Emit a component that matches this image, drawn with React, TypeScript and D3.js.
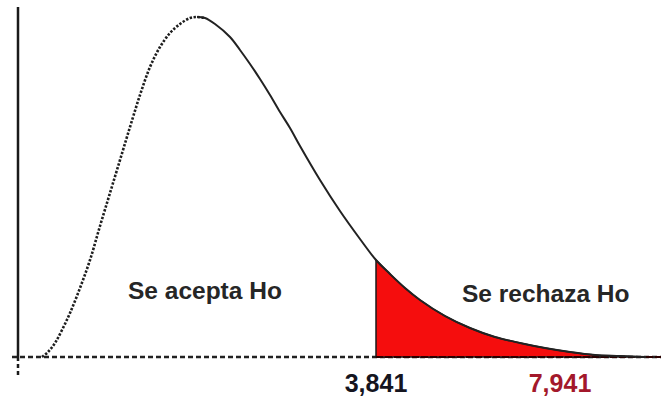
import React from "react";
import * as d3 from "d3";

// Density curve (abstract units: x along axis, y height above baseline)
const curveX = [24, 30, 37, 44, 52, 62, 72, 82, 92, 102, 112, 122, 132, 142, 152, 162, 172, 179, 187, 197, 212, 222, 232, 242, 252, 262, 272, 282, 302, 322, 342, 358, 372, 387, 402, 427, 452, 477, 502, 527, 552, 577, 602, 627];
const curveY = [0, 5, 14, 27, 44, 69, 97, 131, 164, 197, 230, 262, 290, 310, 324, 333, 339, 340, 339, 333, 320, 307, 293, 278, 262, 245, 229, 211, 177, 146, 118, 97, 83, 69, 57, 41, 29, 20, 14, 9, 5, 2, 1, 0];

const peakX = 180;
const criticalX = 358;
const regionLabels = ["Se acepta Ho", "Se rechaza Ho"];
const regionLabelX = [110, 444];
const regionLabelY = [58, 55];
const tickLabels = ["3,841", "7,941"];
const tickLabelX = [358, 542];

export default function App() {
  const W = 661, H = 400;
  const x = d3.scaleLinear().domain([0, 643]).range([18, 661]);
  const y = d3.scaleLinear().domain([0, 350]).range([357, 7]);
  const pts: [number, number][] = curveX.map((v, i) => [v, curveY[i]]);
  const line = d3.line<[number, number]>().x(d => x(d[0])).y(d => y(d[1])).curve(d3.curveCatmullRom.alpha(0.5));
  const rising = pts.filter(p => p[0] <= peakX + 8);
  const falling = pts.filter(p => p[0] >= peakX - 1);
  const tail = pts.filter(p => p[0] >= criticalX);
  const area = d3.area<[number, number]>().x(d => x(d[0])).y0(y(0)).y1(d => y(d[1])).curve(d3.curveMonotoneX);

  return (
    <svg width={W} height={H} style={{ position: "absolute", left: 0, top: 0, background: "#fff" }}>
      {/* vertical axis */}
      <line x1={x(0)} x2={x(0)} y1={y(350)} y2={y(0)} stroke="#1a1a1a" strokeWidth={2.5} />
      <line x1={x(0)} x2={x(0)} y1={y(0)} y2={y(-21)} stroke="#1a1a1a" strokeWidth={2.5} strokeDasharray="4,3" />
      {/* baseline */}
      <line x1={x(-6)} x2={x(643)} y1={y(0)} y2={y(0)} stroke="#222" strokeWidth={2.4} strokeDasharray="5,3" />
      {/* rejection region */}
      <path d={area(tail) || ""} fill="#f50d0d" stroke="#1a1a1a" strokeWidth={1.5} />
      <line x1={x(criticalX)} x2={x(643)} y1={y(0)} y2={y(0)} stroke="#2a0000" strokeWidth={2} strokeDasharray="7,2" />
      {/* curve */}
      <path d={line(rising) || ""} fill="none" stroke="#1e1e1e" strokeWidth={2.6} strokeDasharray="2.4,1.6" />
      <path d={line(falling) || ""} fill="none" stroke="#222" strokeWidth={2} />
      {/* labels */}
      {regionLabels.map((t, i) => (
        <text key={t} x={x(regionLabelX[i])} y={y(regionLabelY[i])} fontFamily="Liberation Sans, Arial, sans-serif" fontWeight="bold" fontSize={24.5} fill="#262626">{t}</text>
      ))}
      {tickLabels.map((t, i) => (
        <text key={t} x={x(tickLabelX[i])} y={392} textAnchor="middle" fontFamily="Liberation Sans, Arial, sans-serif" fontWeight="bold" fontSize={25} fill={i === 0 ? "#15151f" : "#a3182b"}>{t}</text>
      ))}
    </svg>
  );
}
